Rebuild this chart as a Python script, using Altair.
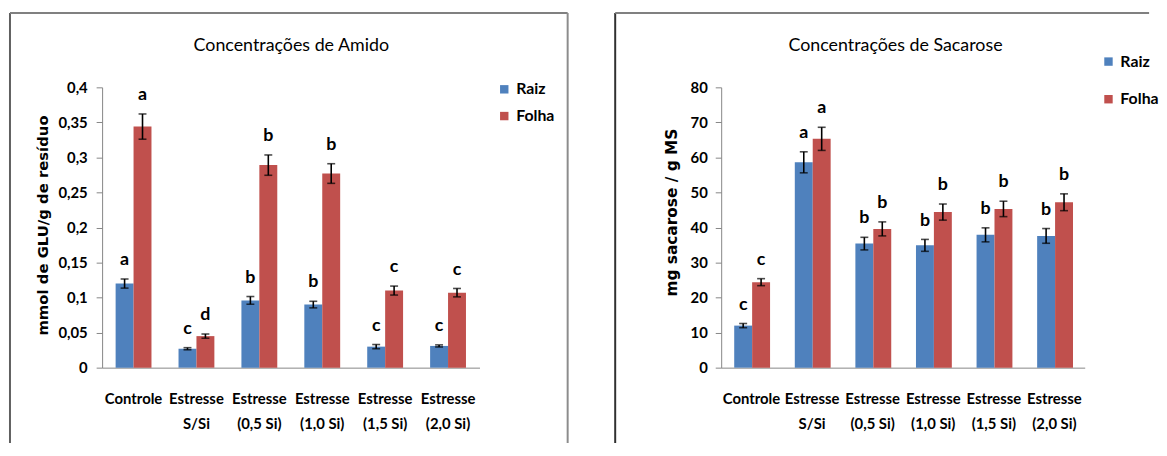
import altair as alt
import pandas as pd

# ---------------- data ----------------
categories = ["Controle", "Estresse S/Si", "Estresse (0,5 Si)",
              "Estresse (1,0 Si)", "Estresse (1,5 Si)", "Estresse (2,0 Si)"]
series = ["Raiz", "Folha"]
colors = ["#4F81BD", "#C0504D"]

amido_raiz = [0.120, 0.027, 0.096, 0.090, 0.030, 0.031]
amido_raiz_err = [0.0065, 0.0015, 0.0055, 0.0047, 0.003, 0.0015]
amido_folha = [0.344, 0.045, 0.289, 0.277, 0.110, 0.107]
amido_folha_err = [0.018, 0.003, 0.0145, 0.014, 0.0064, 0.006]
amido_raiz_letters = ["a", "c", "b", "b", "c", "c"]
amido_folha_letters = ["a", "d", "b", "b", "c", "c"]
amido_ticks = [0, 0.05, 0.1, 0.15, 0.2, 0.25, 0.3, 0.35, 0.4]

sac_raiz = [12.0, 58.6, 35.4, 34.9, 37.9, 37.6]
sac_raiz_err = [0.6, 3.0, 1.8, 1.7, 2.0, 2.1]
sac_folha = [24.4, 65.3, 39.6, 44.4, 45.3, 47.2]
sac_folha_err = [1.0, 3.3, 2.0, 2.3, 2.2, 2.4]
sac_raiz_letters = ["c", "a", "b", "b", "b", "b"]
sac_folha_letters = ["c", "a", "b", "b", "b", "b"]
sac_ticks = [0, 10, 20, 30, 40, 50, 60, 70, 80]

FONT = "Lato, Liberation Sans, Arial"


def make_df(raiz, raiz_err, folha, folha_err, lr, lf):
    rows = []
    for i, c in enumerate(categories):
        rows.append(dict(cat=c, serie="Raiz", v=raiz[i], e=raiz_err[i], letter=lr[i]))
        rows.append(dict(cat=c, serie="Folha", v=folha[i], e=folha_err[i], letter=lf[i]))
    df = pd.DataFrame(rows)
    df["lo"] = df["v"] - df["e"]
    df["hi"] = df["v"] + df["e"]
    return df


LABEL_EXPR = ("indexof(datum.label, ' ') > 0 ? "
              "[substring(datum.label, 0, indexof(datum.label, ' ')), "
              "substring(datum.label, indexof(datum.label, ' ') + 1)] : datum.label")


def panel(df, ymax, yticks, ytitle, ytitle_size, title, w, h, g):
    x = alt.X("cat:N", sort=categories, title=None,
              scale=alt.Scale(paddingInner=0.43, paddingOuter=0.215),
              axis=alt.Axis(labelExpr=LABEL_EXPR, labelAngle=0, ticks=False, tickSize=0,
                            labelPadding=24, labelFont=FONT, labelFontSize=15,
                            labelFontWeight="bold", labelColor="black", labelLineHeight=25,
                            domainColor="#868686", domainWidth=1, labelLimit=0))
    xo = alt.XOffset("serie:N", sort=series,
                     scale=alt.Scale(domain=series, paddingInner=0, paddingOuter=0))
    yaxis = alt.Axis(values=yticks, grid=False,
                     labelExpr="replace(format(datum.value, '~g'), '.', ',')",
                     tickSize=6, tickColor="#868686", domainColor="#868686",
                     labelPadding=g["lp"], labelFont=FONT, labelFontSize=15,
                     labelFontWeight="bold", labelColor="black",
                     title=ytitle, titleX=g["tx"], titleY=g["ty"], titleAngle=270,
                     titleAlign="center", titleBaseline="middle",
                     titleFont="DejaVu Sans", titleFontSize=ytitle_size,
                     titleFontWeight="bold", titleColor="black")
    yscale = alt.Scale(domain=[0, ymax], nice=False, zero=True)
    color = alt.Color("serie:N", sort=series,
                      scale=alt.Scale(domain=series, range=colors),
                      legend=alt.Legend(title=None, orient="none",
                                        legendX=g["lx"], legendY=g["ly"],
                                        symbolType="square", symbolSize=72,
                                        symbolStrokeWidth=0, labelFont=FONT,
                                        labelFontSize=16, labelFontWeight="bold",
                                        labelColor="black", labelOffset=4,
                                        rowPadding=g["rp"], padding=0))
    base = alt.Chart(df)
    bars = base.mark_bar().encode(
        x=x, xOffset=xo, y=alt.Y("v:Q", scale=yscale, axis=yaxis), color=color)
    err = base.mark_rule(color="black", strokeWidth=1.6).encode(
        x=x, xOffset=xo, y=alt.Y("lo:Q", scale=yscale, axis=yaxis), y2="hi:Q")
    cap_hi = base.mark_tick(color="black", thickness=1.6, size=8).encode(
        x=x, xOffset=xo, y=alt.Y("hi:Q", scale=yscale, axis=yaxis))
    cap_lo = base.mark_tick(color="black", thickness=1.6, size=8).encode(
        x=x, xOffset=xo, y=alt.Y("lo:Q", scale=yscale, axis=yaxis))
    letters = base.mark_text(font=FONT, fontSize=18, fontWeight="bold",
                             baseline="middle", dy=-19, color="black").encode(
        x=x, xOffset=xo, y=alt.Y("hi:Q", scale=yscale, axis=yaxis), text="letter:N")

    one = alt.Chart(pd.DataFrame({"k": [0]}))
    ttl = one.mark_text(font=FONT, fontSize=18, baseline="middle", align="center",
                        color="black").encode(
        x=alt.value(g["titx"]), y=alt.value(g["tity"]), text=alt.value(title))
    frames = []
    for fr in g["frame"]:
        frames.append(one.mark_rule(color=fr[4], strokeWidth=2).encode(
            x=alt.value(fr[0]), x2=alt.value(fr[1]),
            y=alt.value(fr[2]), y2=alt.value(fr[3])))
    return alt.layer(bars, err, cap_hi, cap_lo, letters, ttl, *frames).properties(
        width=w, height=h)


df_a = make_df(amido_raiz, amido_raiz_err, amido_folha, amido_folha_err,
               amido_raiz_letters, amido_folha_letters)
df_s = make_df(sac_raiz, sac_raiz_err, sac_folha, sac_folha_err,
               sac_raiz_letters, sac_folha_letters)

g_left = dict(lp=9, tx=-60, ty=139, lx=398, ly=-6, rp=11, titx=191, tity=-42,
              frame=[(-93, -93, -75, 359, "#5f5f5f"),
                     (-93, 470, -75, -75, "#808080"),
                     (470, 470, -75, 359, "#8c8c8c")])
g_right = dict(lp=8, tx=-50, ty=126, lx=383, ly=-34, rp=22, titx=176, tity=-42,
               frame=[(-107, -107, -75, 359, "#303030"),
                      (-107, 432, -75, -75, "#808080")])

left = panel(df_a, 0.4, amido_ticks, "mmol de GLU/g de resíduo", 15,
             "Concentrações de Amido", 381, 283, g_left)
right = panel(df_s, 80, sac_ticks, "mg sacarose / g MS", 15.5,
              "Concentrações de Sacarose", 367, 283, g_right)

chart = alt.hconcat(left, right, spacing=46).resolve_scale(
    color="independent", y="independent", x="independent").resolve_legend(
    color="independent").properties(
    padding={"left": 1, "top": 2, "right": 0, "bottom": 0},
    background="white").configure_view(stroke=None)

chart.save("out.html", embed_options={"renderer": "svg", "actions": False})
